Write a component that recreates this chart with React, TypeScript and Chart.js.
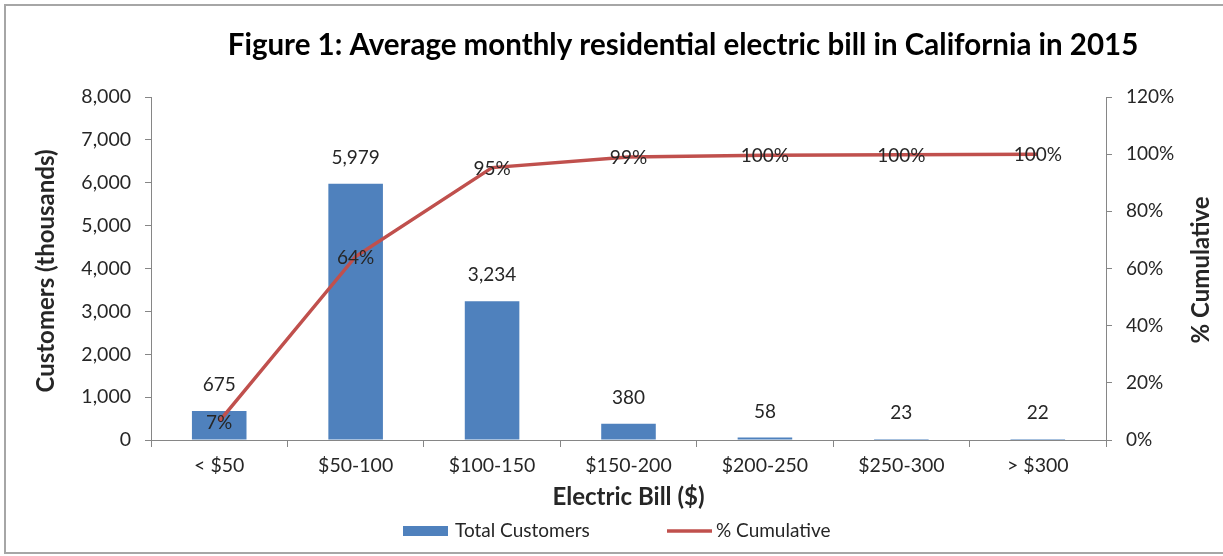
import React, { useEffect, useRef } from "react";
import { Chart, registerables } from "chart.js";

Chart.register(...registerables);

const chartTitle = "Figure 1: Average monthly residential electric bill in California in 2015";
const categories = ["< $50", "$50-100", "$100-150", "$150-200", "$200-250", "$250-300", "> $300"];
const totalCustomers = [675, 5979, 3234, 380, 58, 23, 22];
const cumulativeShare = [0.065, 0.642, 0.953, 0.99, 0.996, 0.998, 1.0];
const leftAxisTitle = "Customers (thousands)";
const rightAxisTitle = "% Cumulative";
const xAxisTitle = "Electric Bill ($)";
const seriesNames = ["Total Customers", "% Cumulative"];

const FONT = "Lato, 'Open Sans', 'DejaVu Sans', sans-serif";
const TEXT = "#262626";
const AXIS = "#868686";
const BLUE = "#4F81BD";
const RED = "#C0504D";

const decorPlugin = {
  id: "decor",
  beforeDraw(chart: any) {
    const ctx = chart.ctx;
    ctx.save();
    ctx.fillStyle = "#ffffff";
    ctx.fillRect(0, 0, chart.width, chart.height);
    ctx.strokeStyle = "#a6a6a6";
    ctx.lineWidth = 2;
    ctx.strokeRect(5, 5, chart.width + 20, chart.height - 8);
    ctx.restore();
  },
  afterDraw(chart: any) {
    const ctx = chart.ctx;
    const area = chart.chartArea;
    ctx.save();
    ctx.fillStyle = "#000000";
    ctx.textAlign = "center";
    ctx.textBaseline = "middle";
    ctx.font = `bold 29.5px ${FONT}`;
    ctx.fillText(chartTitle, 683, 45);

    ctx.fillStyle = TEXT;
    ctx.font = `bold 24px ${FONT}`;
    ctx.save();
    ctx.translate(46, 271);
    ctx.rotate(-Math.PI / 2);
    ctx.fillText(leftAxisTitle, 0, 0);
    ctx.restore();

    ctx.save();
    ctx.translate(1201, 270);
    ctx.rotate(-Math.PI / 2);
    ctx.fillText(rightAxisTitle, 0, 0);
    ctx.restore();

    ctx.font = `bold 24px ${FONT}`;
    ctx.fillText(xAxisTitle, (area.left + area.right) / 2, 497);

    // legend (Excel-style fixed slots)
    ctx.font = `19px ${FONT}`;
    ctx.textAlign = "left";
    const ly = 531;
    const sw = 45;
    ctx.fillStyle = BLUE;
    ctx.fillRect(403, ly - 5, sw, 10);
    ctx.fillStyle = TEXT;
    ctx.fillText(seriesNames[0], 455, ly);
    ctx.strokeStyle = RED;
    ctx.lineWidth = 3.5;
    ctx.beginPath();
    ctx.moveTo(667, ly);
    ctx.lineTo(667 + sw, ly);
    ctx.stroke();
    ctx.fillText(seriesNames[1], 716, ly);

    // data labels
    ctx.textAlign = "center";
    ctx.font = `19px ${FONT}`;
    ctx.fillStyle = TEXT;
    const barMeta = chart.getDatasetMeta(0);
    barMeta.data.forEach((el: any, i: number) => {
      ctx.fillText(totalCustomers[i].toLocaleString("en-US"), el.x, el.y - 26);
    });
    const lineMeta = chart.getDatasetMeta(1);
    lineMeta.data.forEach((el: any, i: number) => {
      ctx.fillText(Math.round(cumulativeShare[i] * 100) + "%", el.x, el.y + 1);
    });
    ctx.restore();
  },
};

export default function App() {
  const ref = useRef<HTMLCanvasElement | null>(null);
  useEffect(() => {
    if (!ref.current) return;
    const chart = new Chart(ref.current, {
      type: "bar",
      data: {
        labels: categories,
        datasets: [
          {
            type: "bar",
            label: seriesNames[0],
            data: totalCustomers,
            backgroundColor: BLUE,
            barPercentage: 0.4,
            categoryPercentage: 1,
            yAxisID: "y",
            order: 1,
          },
          {
            type: "line",
            label: seriesNames[1],
            data: cumulativeShare,
            borderColor: RED,
            borderWidth: 3.5,
            pointRadius: 0,
            tension: 0,
            yAxisID: "y1",
            order: 0,
          },
        ] as any,
      },
      options: {
        responsive: false,
        animation: false,
        devicePixelRatio: 1,
        layout: { padding: { top: 97, left: 0, right: 0, bottom: 0 } },
        plugins: { legend: { display: false }, title: { display: false }, tooltip: { enabled: false } },
        scales: {
          x: {
            grid: { display: true, drawOnChartArea: false, drawTicks: true, tickLength: 7, color: AXIS, offset: true },
            border: { color: AXIS, width: 1 },
            ticks: { color: TEXT, font: { family: FONT, size: 19.5 }, padding: 7, maxRotation: 0 },
            afterFit: (s: any) => { s.height = 116; },
          },
          y: {
            position: "left",
            min: 0,
            max: 8000,
            grid: { display: true, drawOnChartArea: false, drawTicks: true, tickLength: 6, color: AXIS },
            border: { color: AXIS, width: 1 },
            ticks: {
              stepSize: 1000,
              color: TEXT,
              font: { family: FONT, size: 19.5 },
              padding: 14,
              callback: (v: any) => Number(v).toLocaleString("en-US"),
            },
            afterFit: (s: any) => { s.width = 151; },
          },
          y1: {
            position: "right",
            min: 0,
            max: 1.2,
            grid: { display: true, drawOnChartArea: false, drawTicks: true, tickLength: 6, color: AXIS },
            border: { color: AXIS, width: 1 },
            ticks: {
              stepSize: 0.2,
              color: TEXT,
              font: { family: FONT, size: 19 },
              padding: 14,
              callback: (v: any) => Math.round(Number(v) * 100) + "%",
            },
            afterFit: (s: any) => { s.width = 117; },
          },
        },
      } as any,
      plugins: [decorPlugin],
    });
    return () => chart.destroy();
  }, []);
  return (
    <div style={{ position: "absolute", left: 0, top: 0, width: 1223, height: 556 }}>
      <canvas ref={ref} width={1223} height={556} style={{ display: "block", width: 1223, height: 556 }} />
    </div>
  );
}
